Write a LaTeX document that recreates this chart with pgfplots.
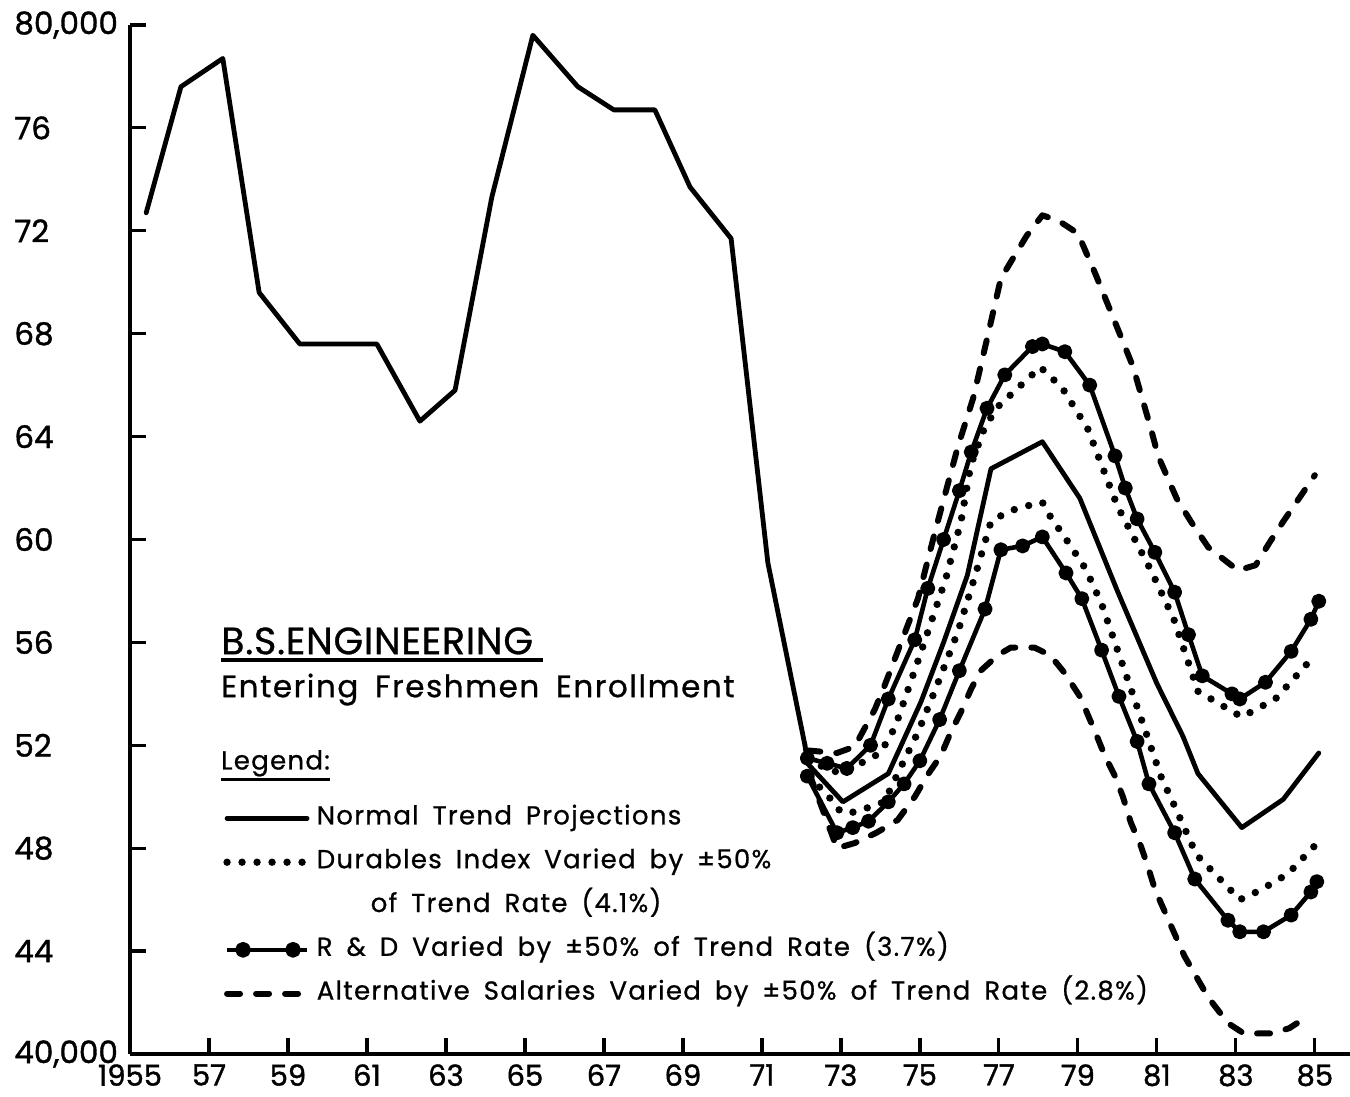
\documentclass[border=0pt]{standalone}
\usepackage{fontspec}
\setmainfont{Poppins}[FakeBold=0.6]
\newfontfamily\legfont[LetterSpace=5,WordSpace=1.7,FakeBold=0.8]{Poppins}
\newfontfamily\titfont[LetterSpace=2,FakeBold=0.8]{Poppins}
\newfontfamily\tickfont[FakeBold=1.2]{Poppins}
\usepackage{pgfplots}
\pgfplotsset{compat=1.18}
\pgfplotstableread{
x y
1955.41 72.7
1956.29 77.6
1957.35 78.7
1958.27 69.6
1959.30 67.6
1960.29 67.6
1961.25 67.6
1962.34 64.6
1963.23 65.8
1964.16 73.3
1965.20 79.6
1966.34 77.6
1967.25 76.7
1968.29 76.7
1969.18 73.7
1970.22 71.7
1971.15 59.1
1972.09 52.0
}\hist
\pgfplotstableread{
x y
1972.09 52.0
1972.15 51.3
1973.05 49.8
1974.2 50.9
1975.03 53.7
1975.6 56.0
1976.2 58.6
1976.8 62.75
1978.1 63.8
1979.05 61.6
1980.0 58.0
1981.0 54.4
1981.66 52.35
1982.04 50.9
1983.15 48.8
1984.2 49.9
1985.1 51.7
}\normal
\pgfplotstableread{
x y
1972.15 51.4
1973.0 50.9
1974.0 51.7
1974.37 52.7
1975.0 55.5
1975.66 58.5
1976.04 60.7
1976.29 62.9
1976.65 64.4
1977.0 65.2
1978.05 66.7
1978.6 65.9
1979.25 64.3
1980.0 61.3
1980.85 58.8
1981.43 56.9
1982.04 54.1
1983.15 53.1
1984.0 53.8
1985.0 55.5
}\durup
\pgfplotstableread{
x y
1972.2 50.8
1972.75 49.9
1973.0 49.4
1973.35 49.4
1973.73 49.6
1974.1 49.8
1974.5 51.1
1974.95 52.5
1975.4 54.2
1975.96 56.4
1976.4 58.6
1976.8 60.7
1977.25 61.1
1977.7 61.3
1978.1 61.45
1978.3 60.9
1978.75 59.9
1979.2 58.85
1979.6 57.5
1980.7 52.6
1981.1 50.8
1981.46 49.6
1982.0 47.75
1983.1 46.0
1983.4 46.2
1983.76 46.5
1984.11 46.8
1984.44 47.2
1984.75 47.7
1985.0 48.1
}\durlo
\pgfplotstableread{
x y
1972.15 51.5
1972.65 51.3
1973.15 51.1
1973.75 52.0
1974.2 53.8
1974.87 56.1
1975.2 58.1
1975.6 60.0
1976.0 61.9
1976.3 63.4
1976.7 65.1
1977.15 66.4
1977.85 67.5
1978.1 67.6
1978.67 67.3
1979.3 66.0
1979.94 63.25
1980.2 62.0
1980.5 60.8
1980.95 59.5
1981.45 57.95
1981.8 56.3
1982.15 54.7
1982.9 54.0
1983.1 53.8
1983.75 54.45
1984.4 55.65
1984.9 56.9
1985.1 57.6
}\rdup
\pgfplotstableread{
x y
1972.15 50.8
1972.9 48.6
1973.3 48.8
1973.7 49.05
1974.2 49.8
1974.6 50.5
1975.0 51.4
1975.5 53.0
1976.0 54.9
1976.65 57.3
1977.05 59.6
1977.6 59.75
1978.1 60.1
1978.7 58.7
1979.1 57.7
1979.6 55.7
1980.04 53.9
1980.5 52.15
1980.8 50.5
1981.45 48.6
1981.96 46.8
1982.8 45.2
1983.1 44.75
1983.7 44.75
1984.4 45.4
1984.9 46.3
1985.05 46.7
}\rdlo
\pgfplotstableread{
x y
1972.15 51.8
1972.9 51.7
1973.35 51.95
1973.86 53.4
1974.1 54.3
1974.5 55.9
1974.95 57.7
1975.4 60.4
1975.96 63.6
1976.35 65.5
1976.7 67.8
1977.05 70.15
1977.7 71.8
1978.1 72.6
1978.5 72.4
1979.0 71.9
1979.45 70.3
1979.9 68.6
1980.4 66.7
1980.85 64.3
1981.03 63.25
1981.5 61.6
1981.86 60.7
1982.3 59.7
1983.05 58.8
1983.5 59.0
1983.86 59.9
1984.2 60.7
1984.6 61.6
1985.0 62.5
}\altup
\pgfplotstableread{
x y
1972.2 50.9
1972.9 48.0
1973.35 48.2
1973.9 48.6
1974.44 49.1
1974.87 50.0
1975.2 50.86
1975.53 51.6
1975.78 52.5
1976.04 53.3
1976.3 54.2
1976.54 54.9
1976.97 55.5
1977.3 55.8
1977.9 55.8
1978.3 55.5
1978.67 54.8
1979.05 53.9
1979.43 52.55
1979.68 51.6
1979.94 50.8
1980.14 50.0
1980.34 49.0
1980.6 48.06
1980.77 47.3
1980.95 46.4
1981.7 43.8
1982.3 42.2
1982.8 41.2
1983.2 40.8
1983.9 40.8
1984.35 41.0
1984.8 41.45
}\altlo
\pgfplotsset{
  solidln/.style={black, line width=2.4pt, line join=round, line cap=round, mark=none},
  dotln/.style={black, line width=3.7pt, line cap=round, dash pattern=on 0pt off 7.5pt, mark=none},
  dashln/.style={black, line width=3pt, line cap=round, line join=round, dash pattern=on 6.5pt off 8pt, mark=none},
  rdln/.style={black, line width=2.3pt, line join=round, mark=*, mark size=2.6pt, mark options={solid, fill=black}},
}
\begin{document}
\begin{tikzpicture}
\path[use as bounding box] (-65pt,-21.5pt) rectangle (610pt,527pt);
\begin{axis}[
  scale only axis, width=610pt, height=514.5pt,
  at={(0pt,0pt)}, anchor=south west,
  xmin=1955, xmax=1985.89, ymin=40, ymax=80,
  axis lines=left, axis line style={-, line width=2pt},
  tick align=inside, major tick length=8pt,
  tick style={line width=1.6pt, black},
  xtick={1955,1957,...,1985},
  xticklabels={1955,57,59,61,63,65,67,69,71,73,75,77,79,81,83,85},
  ytick={40,44,...,80},
  yticklabels={{40,000},44,48,52,56,60,64,68,72,76,{80,000}},
  yticklabel style={anchor=west, inner sep=0pt, xshift=-58pt, font=\tickfont\fontsize{15.5}{15.5}\selectfont},
  xticklabel style={font=\tickfont\fontsize{14.5}{14.5}\selectfont, inner sep=0pt, yshift=-5pt},
  legend image code/.code={\draw[#1] (0pt,0pt) -- (40pt,0pt);},
  legend cell align=left,
  legend style={draw=none, fill=none, at={(rel axis cs:0.0762,0.241)}, anchor=north west,
    inner sep=0pt, row sep=9.9pt, column sep=3pt, font=\legfont\fontsize{13}{13}\selectfont,
    nodes={inner sep=0pt, text height=9pt, text depth=3pt}},
]
\addplot[solidln, forget plot] table[x=x,y=y] {\hist};
\addplot[solidln] table[x=x,y=y] {\normal};
\addlegendentry{Normal Trend Projections}
\addplot[dotln] table[x=x,y=y] {\durup};
\addlegendentry{Durables Index Varied by ±50\%}
\addplot[dotln, forget plot] table[x=x,y=y] {\durlo};
\addlegendimage{empty legend}
\addlegendentry{\hspace*{27pt}of Trend Rate (4.1\%)}
\addplot[rdln, legend image code/.code={\draw[line width=2.3pt] (0pt,0pt) -- (40pt,0pt); \fill (8pt,0pt) circle (2.8pt); \fill (33pt,0pt) circle (2.8pt);}] table[x=x,y=y] {\rdup};
\addlegendentry{R \& D Varied by ±50\% of Trend Rate (3.7\%)}
\addplot[rdln, forget plot] table[x=x,y=y] {\rdlo};
\addplot[dashln] table[x=x,y=y] {\altup};
\addlegendentry{Alternative Salaries Varied by ±50\% of Trend Rate (2.8\%)}
\addplot[dashln, forget plot] table[x=x,y=y] {\altlo};
\node[anchor=base west, inner sep=0pt, font=\titfont\fontsize{19}{19}\selectfont] (bs) at (axis cs:1957.3,55.54) {B.S.ENGINEERING};
\draw[line width=1.8pt] ([yshift=-3pt]bs.base west) -- ([xshift=5pt,yshift=-3pt]bs.base east);
\node[anchor=base west, inner sep=0pt, font=\legfont\fontsize{15.5}{15.5}\selectfont] at (axis cs:1957.3,53.87) {Entering Freshmen Enrollment};
\node[anchor=base west, inner sep=0pt, font=\legfont\fontsize{13}{13}\selectfont] (lg) at (axis cs:1957.3,51.06) {Legend:};
\draw[line width=1.6pt] ([yshift=-5pt]lg.base west) -- ([yshift=-5pt]lg.base east);
\end{axis}
\end{tikzpicture}
\end{document}
